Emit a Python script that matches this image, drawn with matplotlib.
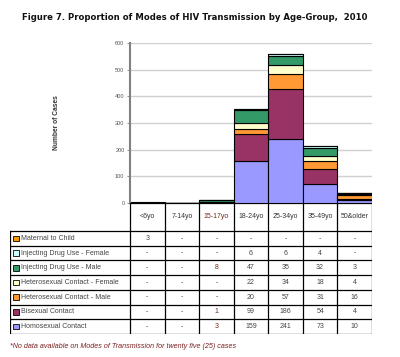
import matplotlib.pyplot as plt
from matplotlib import font_manager
from matplotlib.patches import Rectangle

age_groups = ["<6yo", "7-14yo", "15-17yo", "18-24yo", "25-34yo", "35-49yo", "50&older"]

# stacked bottom to top
modes = [
    "Homosexual Contact",
    "Bisexual Contact",
    "Heterosexual Contact - Male",
    "Heterosexual Contact - Female",
    "Injecting Drug Use - Male",
    "Injecting Drug Use - Female",
    "Maternal to Child",
]
homosexual = [0, 0, 3, 159, 241, 73, 10]
bisexual = [0, 0, 1, 99, 186, 54, 4]
hetero_male = [0, 0, 0, 20, 57, 31, 16]
hetero_female = [0, 0, 0, 22, 34, 18, 4]
idu_male = [0, 0, 8, 47, 35, 32, 3]
idu_female = [0, 0, 0, 6, 6, 4, 0]
maternal = [3, 0, 0, 0, 0, 0, 0]
series = [homosexual, bisexual, hetero_male, hetero_female, idu_male, idu_female, maternal]

colors = ["#9999FF", "#993366", "#FF9933", "#FFFFCC", "#339966", "#CCFFFF", "#FF9900"]

yticks = [0, 100, 200, 300, 400, 500, 600]

available = {f.name for f in font_manager.fontManager.ttflist}
body_font = "Liberation Sans" if "Liberation Sans" in available else "DejaVu Sans"
plt.rcParams["font.family"] = body_font

W, H = 400, 357
fig = plt.figure(figsize=(W / 100, H / 100), dpi=100)

x_left, x_right = 130, 372
y_top, y_zero = 43, 203
ax = fig.add_axes([x_left / W, 1 - y_zero / H, (x_right - x_left) / W, (y_zero - y_top) / H])

n = len(age_groups)
xs = list(range(n))
bottom = [0] * n
for vals, col in zip(series, colors):
    ax.bar(xs, vals, width=1.0, bottom=bottom, color=col, edgecolor="black", linewidth=0.8)
    bottom = [b + v for b, v in zip(bottom, vals)]

ax.set_xlim(-0.5, n - 0.5)
ax.set_ylim(0, 600)
ax.set_yticks(yticks)
ax.set_xticks([])
ax.yaxis.grid(True, color="#d0d0d0", linewidth=1)
ax.set_axisbelow(True)
for s in ["top", "right", "bottom"]:
    ax.spines[s].set_visible(False)
ax.spines["left"].set_color("#808080")
ax.spines["left"].set_linewidth(1.5)
ax.tick_params(axis="y", length=2, width=0.6, colors="#808080", labelsize=4, labelcolor="#555555", pad=2)
fig.text(57 / W, 1 - 123 / H, "Number of Cases", rotation=90, ha="center", va="center",
         fontsize=4.8, fontweight="bold", color="#333333")

# data table under the chart
t_bottom = 334
cat_h = 28
col_w = (x_right - x_left) / n
lab_left = -0.5 - (x_left - 10) / col_w
tax = fig.add_axes([10 / W, 1 - t_bottom / H, (x_right - 10) / W, (t_bottom - y_zero) / H])
tax.set_xlim(lab_left, n - 0.5)
tax.set_ylim(t_bottom - y_zero, 0)
tax.axis("off")

row_h = (t_bottom - y_zero - cat_h) / len(modes)
lw = 0.9
tax.plot([-0.5, n - 0.5], [0, 0], color="black", lw=lw)
tax.plot([lab_left, n - 0.5], [cat_h, cat_h], color="black", lw=lw)
for i in range(n + 1):
    tax.plot([i - 0.5, i - 0.5], [0, t_bottom - y_zero], color="black", lw=lw)
tax.plot([lab_left, lab_left], [cat_h, t_bottom - y_zero], color="black", lw=lw)

for i, g in enumerate(age_groups):
    c = "#6b2d12" if g == "15-17yo" else "#333333"
    tax.text(i, cat_h / 2, g, ha="center", va="center", fontsize=5, color=c)

rows = list(reversed(list(zip(modes, series, colors))))
for r, (name, vals, col) in enumerate(rows):
    y0 = cat_h + r * row_h
    tax.plot([lab_left, n - 0.5], [y0 + row_h, y0 + row_h], color="black", lw=lw)
    tax.add_patch(Rectangle((lab_left + 0.1, y0 + row_h / 2 - 2.8), 5.6 / col_w, 5.6,
                            facecolor=col, edgecolor="black", linewidth=0.6))
    tax.text(lab_left + 0.1 + 7.5 / col_w, y0 + row_h / 2, name, ha="left", va="center",
             fontsize=5, color="#444444")
    for i, v in enumerate(vals):
        c = "#6b2d12" if age_groups[i] == "15-17yo" else "#444444"
        tax.text(i, y0 + row_h / 2, str(v) if v else "-", ha="center", va="center",
                 fontsize=5, color=c)

fig.text(22 / W, 1 - 17 / H, "Figure 7. Proportion of Modes of HIV Transmission by Age-Group,  2010",
         family="DejaVu Sans", fontweight="bold", fontsize=6.1,
         ha="left", va="center", color="#111111")
fig.text(10 / W, 1 - 347 / H, "*No data available on Modes of Transmission for twenty five (25) cases",
         fontsize=5.1, style="italic", color="#7a1f1f", ha="left", va="center")

fig.savefig("out.png", dpi=100)
